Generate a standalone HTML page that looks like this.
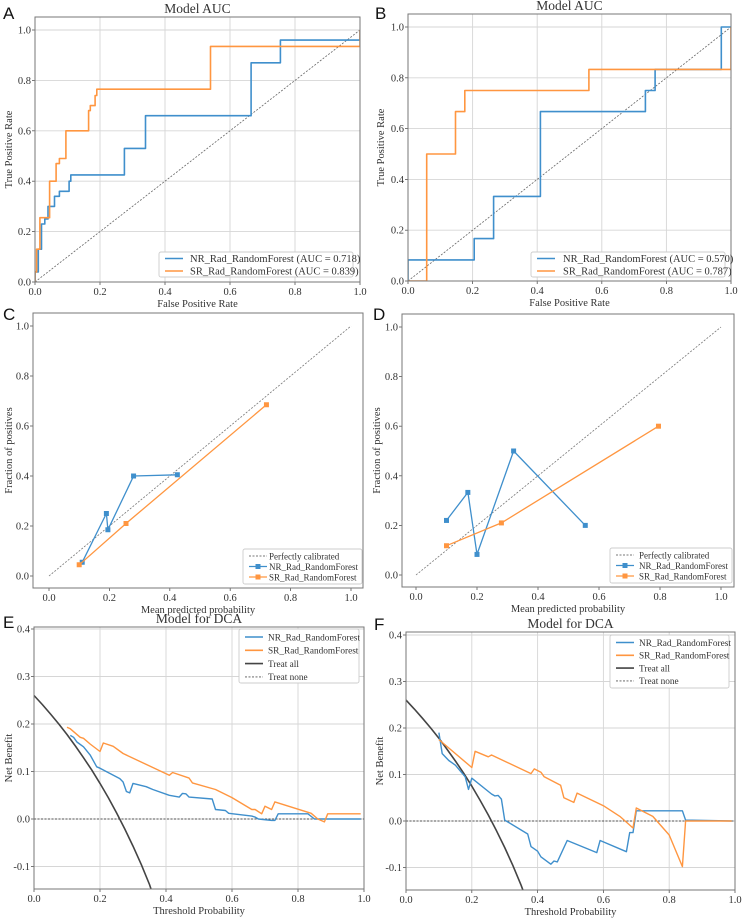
<!DOCTYPE html>
<html><head><meta charset="utf-8"><style>
html,body{margin:0;padding:0;background:#fff;}
svg{display:block;}
text{font-family:"Liberation Serif",serif;fill:#333;}
.lt{font-family:"Liberation Sans",sans-serif;font-size:17px;fill:#111;}
</style></head><body>
<svg id="fig" width="744" height="918" viewBox="0 0 744 918" xmlns="http://www.w3.org/2000/svg"></svg>
<script>
// ===== Data =====
const rocTicks = [0, 0.2, 0.4, 0.6, 0.8, 1.0];
const rocTickLabels = ["0.0","0.2","0.4","0.6","0.8","1.0"];
const dcaYTicks = [-0.1, 0, 0.1, 0.2, 0.3, 0.4];
const dcaYTickLabels = ["-0.1","0.0","0.1","0.2","0.3","0.4"];

const rocA_nr_fpr = [0,0,0.01,0.01,0.02,0.02,0.03,0.03,0.04,0.04,0.06,0.06,0.075,0.075,0.105,0.105,0.11,0.11,0.275,0.275,0.34,0.34,0.665,0.665,0.755,0.755,1,1];
const rocA_nr_tpr = [0,0.04,0.04,0.13,0.13,0.23,0.23,0.25,0.25,0.30,0.30,0.34,0.34,0.36,0.36,0.40,0.40,0.425,0.425,0.53,0.53,0.66,0.66,0.87,0.87,0.96,0.96,1];
const rocA_sr_fpr = [0,0,0.005,0.005,0.015,0.015,0.045,0.045,0.065,0.065,0.075,0.075,0.095,0.095,0.165,0.165,0.17,0.17,0.185,0.185,0.19,0.19,0.54,0.54,1,1];
const rocA_sr_tpr = [0,0.04,0.04,0.13,0.13,0.255,0.255,0.40,0.40,0.47,0.47,0.49,0.49,0.60,0.60,0.68,0.68,0.70,0.70,0.74,0.74,0.765,0.765,0.935,0.935,1];

const rocB_nr_fpr = [0,0,0.205,0.205,0.265,0.265,0.41,0.41,0.735,0.735,0.765,0.765,0.97,0.97,1];
const rocB_nr_tpr = [0,0.083,0.083,0.167,0.167,0.333,0.333,0.667,0.667,0.75,0.75,0.833,0.833,1,1];
const rocB_sr_fpr = [0,0.058,0.058,0.147,0.147,0.176,0.176,0.56,0.56,1,1];
const rocB_sr_tpr = [0,0,0.5,0.5,0.667,0.667,0.75,0.75,0.833,0.833,1];

const calC_nr_x = [0.11,0.19,0.195,0.28,0.425];
const calC_nr_y = [0.055,0.25,0.185,0.40,0.405];
const calC_sr_x = [0.10,0.255,0.72];
const calC_sr_y = [0.045,0.21,0.685];
const calD_nr_x = [0.10,0.17,0.20,0.32,0.555];
const calD_nr_y = [0.22,0.333,0.083,0.50,0.20];
const calD_sr_x = [0.10,0.28,0.795];
const calD_sr_y = [0.118,0.21,0.60];

const treatAll_t = [0,0.025,0.05,0.075,0.1,0.125,0.15,0.175,0.2,0.225,0.25,0.275,0.3,0.325,0.35,0.355];
const treatAll_nb = [0.26,0.241,0.221,0.200,0.178,0.154,0.129,0.103,0.075,0.045,0.013,-0.021,-0.057,-0.096,-0.138,-0.148];

const dcaE_nr_t = [0.11,0.12,0.13,0.15,0.17,0.19,0.2,0.26,0.27,0.28,0.29,0.30,0.34,0.36,0.41,0.44,0.45,0.46,0.47,0.54,0.55,0.58,0.59,0.66,0.67,0.68,0.72,0.73,0.74,0.83,0.85,0.99];
const dcaE_nr_nb = [0.176,0.172,0.162,0.152,0.135,0.110,0.107,0.085,0.078,0.058,0.055,0.075,0.068,0.062,0.050,0.046,0.054,0.053,0.046,0.042,0.020,0.018,0.012,0.006,0.004,0.0,-0.003,-0.003,0.011,0.011,0.0,0.0];
const dcaE_sr_t = [0.10,0.11,0.14,0.15,0.17,0.20,0.21,0.24,0.27,0.41,0.42,0.47,0.48,0.55,0.60,0.66,0.67,0.69,0.70,0.72,0.73,0.84,0.86,0.88,0.89,0.99];
const dcaE_sr_nb = [0.193,0.190,0.172,0.170,0.158,0.142,0.160,0.153,0.138,0.092,0.098,0.086,0.076,0.062,0.045,0.020,0.020,0.011,0.027,0.020,0.036,0.012,0.0,-0.006,0.011,0.011];

const dcaF_nr_t = [0.10,0.11,0.13,0.15,0.18,0.19,0.20,0.26,0.27,0.28,0.29,0.30,0.37,0.38,0.40,0.41,0.44,0.45,0.46,0.49,0.58,0.59,0.67,0.68,0.69,0.70,0.84,0.85,0.99];
const dcaF_nr_nb = [0.19,0.145,0.13,0.12,0.095,0.068,0.092,0.058,0.054,0.055,0.047,0.002,-0.028,-0.055,-0.065,-0.077,-0.093,-0.086,-0.088,-0.042,-0.068,-0.042,-0.066,-0.025,-0.025,0.022,0.022,0.002,0.0];
const dcaF_sr_t = [0.10,0.20,0.21,0.25,0.26,0.38,0.39,0.41,0.42,0.47,0.48,0.51,0.52,0.60,0.65,0.69,0.70,0.75,0.80,0.84,0.85,0.99];
const dcaF_sr_nb = [0.175,0.115,0.15,0.138,0.142,0.102,0.112,0.105,0.095,0.077,0.05,0.04,0.06,0.033,0.01,-0.015,0.028,0.01,-0.03,-0.098,0.0,0.0];

const BLUE = "#3f8fcc", ORANGE = "#ff9640", DARK = "#444";
const svg = document.getElementById('fig');
const NS = "http://www.w3.org/2000/svg";
function mk(tag, attrs, parent){ const e=document.createElementNS(NS,tag); for(const k in attrs) e.setAttribute(k,attrs[k]); (parent||svg).appendChild(e); return e; }

function panel(c){
  const g = mk('g',{});
  
  
  const sx = v => c.x0 + (v - c.xa)/(c.xb - c.xa)*(c.x1 - c.x0);
  const sy = v => c.y0 + (v - c.ya)/(c.yb - c.ya)*(c.y1 - c.y0);
  if(c.grid){
    c.xt.forEach(v=>{ const l=mk('line',{x1:sx(v),x2:sx(v),y1:c.bt,y2:c.bb,stroke:"#d6d6d6","stroke-width":0.9},g);
       });
    c.yt.forEach(v=>{ const l=mk('line',{x1:c.bl,x2:c.br,y1:sy(v),y2:sy(v),stroke:"#d6d6d6","stroke-width":0.9},g);
       });
  }
  c.xt.forEach((v,i)=>{ mk('line',{x1:sx(v),x2:sx(v),y1:c.bb,y2:c.bb+3,stroke:"#555","stroke-width":0.8},g);
    const t=mk('text',{x:sx(v),y:c.bb+13,"font-size":10.5,"text-anchor":"middle"},g); t.textContent=c.xl[i];
     });
  c.yt.forEach((v,i)=>{ mk('line',{x1:c.bl-3,x2:c.bl,y1:sy(v),y2:sy(v),stroke:"#555","stroke-width":0.8},g);
    const t=mk('text',{x:c.bl-4,y:sy(v)+3.5,"font-size":10.5,"text-anchor":"end"},g); t.textContent=c.yl[i];
     });
  const cid='clip'+c.name; const cp=mk('clipPath',{id:cid},g); mk('rect',{x:c.bl,y:c.bt,width:c.br-c.bl,height:c.bb-c.bt},cp);
  const pg=mk('g',{"clip-path":"url(#"+cid+")"},g);
  c.series.forEach(s=>{
    const pts=s.x.map((v,i)=>sx(v).toFixed(1)+","+sy(s.y[i]).toFixed(1)).join(" ");
    const p=mk('polyline',{points:pts,fill:"none",stroke:s.color,"stroke-width":s.w||1.6,"stroke-dasharray":s.dash||"none","stroke-linejoin":"round"},pg);
    
    
    if(s.markers){ s.x.forEach((v,i)=>{ const m=mk('rect',{x:sx(v)-2.5,y:sy(s.y[i])-2.5,width:5,height:5,fill:s.color},pg);
       }); }
  });
  const bx=mk('rect',{x:c.bl,y:c.bt,width:c.br-c.bl,height:c.bb-c.bt,fill:"none",stroke:"#777","stroke-width":1},g);
   
  const cx=(c.bl+c.br)/2, cy=(c.bt+c.bb)/2;
  const xl=mk('text',{x:cx,y:c.bb+25,"font-size":10.5,"text-anchor":"middle"},g); xl.textContent=c.xlabel;
   
  const yl=mk('text',{x:0,y:0,"font-size":10.5,"text-anchor":"middle",transform:`translate(${c.ylx},${cy}) rotate(-90)`},g); yl.textContent=c.ylabel;
   
  if(c.title){ const t=mk('text',{x:cx,y:c.bt-4,"font-size":13.5,"text-anchor":"middle"},g); t.textContent=c.title;
      }
  const L=mk('text',{x:c.letter[0],y:c.letter[1],class:"lt"},g); L.textContent=c.letterText;
   
  const lg=c.legend; const lgG=mk('g',{},g);
   
  mk('rect',{x:lg.x,y:lg.y,width:lg.w,height:lg.h,fill:"#fff",stroke:"#ccc","stroke-width":0.9,rx:2},lgG);
  lg.items.forEach((it,i)=>{
    const yy=lg.y+lg.first+i*lg.step;
    mk('line',{x1:lg.x+6,x2:lg.x+24,y1:yy,y2:yy,stroke:it.color,"stroke-width":it.w||1.6,"stroke-dasharray":it.dash||"none"},lgG);
    if(it.marker) mk('rect',{x:lg.x+12.5,y:yy-2.5,width:5,height:5,fill:it.color},lgG);
    const t=mk('text',{x:lg.tx,y:yy+3.3,"font-size":lg.fs||10.5},lgG); t.textContent=it.label;
     
  });
}

const diag={name:"chance-diagonal",x:[0,1],y:[0,1],color:"#666",w:0.8,dash:"2,1.5"};
panel({name:"roc-panel-a",bl:35,br:360,bt:17,bb:282,x0:35,x1:360,xa:0,xb:1,y0:282,y1:30,ya:0,yb:1,grid:true,
  xt:rocTicks,xl:rocTickLabels,yt:rocTicks,yl:rocTickLabels,xlabel:"False Positive Rate",ylabel:"True Positive Rate",ylx:12,
  title:"Model AUC",letter:[3,19],letterText:"A",
  series:[diag,{name:"nr-roc-line",x:rocA_nr_fpr,y:rocA_nr_tpr,color:BLUE},{name:"sr-roc-line",x:rocA_sr_fpr,y:rocA_sr_tpr,color:ORANGE}],
  legend:{x:159,y:252,w:194,h:25,first:6.5,step:12.5,tx:190,fs:10.5,items:[{color:BLUE,label:"NR_Rad_RandomForest (AUC = 0.718)"},{color:ORANGE,label:"SR_Rad_RandomForest (AUC = 0.839)"}]}});
panel({name:"roc-panel-b",bl:408,br:731,bt:14,bb:281,x0:408,x1:731,xa:0,xb:1,y0:281,y1:27,ya:0,yb:1,grid:true,
  xt:rocTicks,xl:rocTickLabels,yt:rocTicks,yl:rocTickLabels,xlabel:"False Positive Rate",ylabel:"True Positive Rate",ylx:384,
  title:"Model AUC",letter:[375,19],letterText:"B",
  series:[diag,{name:"nr-roc-line",x:rocB_nr_fpr,y:rocB_nr_tpr,color:BLUE},{name:"sr-roc-line",x:rocB_sr_fpr,y:rocB_sr_tpr,color:ORANGE}],
  legend:{x:531,y:252,w:194,h:25,first:6.5,step:12.5,tx:563,fs:10.5,items:[{color:BLUE,label:"NR_Rad_RandomForest (AUC = 0.570)"},{color:ORANGE,label:"SR_Rad_RandomForest (AUC = 0.787)"}]}});
panel({name:"calibration-panel-c",bl:33,br:363,bt:313,bb:588,x0:49,x1:351,xa:0,xb:1,y0:576,y1:326,ya:0,yb:1,grid:false,
  xt:rocTicks,xl:rocTickLabels,yt:rocTicks,yl:rocTickLabels,xlabel:"Mean predicted probability",ylabel:"Fraction of positives",ylx:12,
  title:null,letter:[3,320],letterText:"C",
  series:[{name:"perfect-calibration-line",x:[0,1],y:[0,1],color:"#777",w:0.8,dash:"2,1.5"},
    {name:"nr-calibration-line",x:calC_nr_x,y:calC_nr_y,color:BLUE,w:1.3,markers:true},
    {name:"sr-calibration-line",x:calC_sr_x,y:calC_sr_y,color:ORANGE,w:1.3,markers:true}],
  legend:{x:243,y:549,w:119,h:35,first:7,step:10.5,tx:269,fs:9,items:[{color:"#777",w:0.9,dash:"2,1.5",label:"Perfectly calibrated"},{color:BLUE,w:1.3,marker:true,label:"NR_Rad_RandomForest"},{color:ORANGE,w:1.3,marker:true,label:"SR_Rad_RandomForest"}]}});
panel({name:"calibration-panel-d",bl:402,br:734,bt:314,bb:587,x0:416,x1:721,xa:0,xb:1,y0:575,y1:327,ya:0,yb:1,grid:false,
  xt:rocTicks,xl:rocTickLabels,yt:rocTicks,yl:rocTickLabels,xlabel:"Mean predicted probability",ylabel:"Fraction of positives",ylx:380,
  title:null,letter:[373,320],letterText:"D",
  series:[{name:"perfect-calibration-line",x:[0,1],y:[0,1],color:"#777",w:0.8,dash:"2,1.5"},
    {name:"nr-calibration-line",x:calD_nr_x,y:calD_nr_y,color:BLUE,w:1.3,markers:true},
    {name:"sr-calibration-line",x:calD_sr_x,y:calD_sr_y,color:ORANGE,w:1.3,markers:true}],
  legend:{x:610,y:548,w:122,h:35,first:7,step:10.5,tx:639,fs:9,items:[{color:"#777",w:0.9,dash:"2,1.5",label:"Perfectly calibrated"},{color:BLUE,w:1.3,marker:true,label:"NR_Rad_RandomForest"},{color:ORANGE,w:1.3,marker:true,label:"SR_Rad_RandomForest"}]}});
panel({name:"dca-panel-e",bl:34,br:364,bt:627,bb:889,x0:34,x1:364,xa:0,xb:1,y0:819,y1:629,ya:0,yb:0.4,grid:true,
  xt:rocTicks,xl:rocTickLabels,yt:dcaYTicks,yl:dcaYTickLabels,xlabel:"Threshold Probability",ylabel:"Net Benefit",ylx:12,
  title:"Model for DCA",letter:[3,628],letterText:"E",
  series:[{name:"treat-none-line",x:[0,1],y:[0,0],color:"#555",w:0.9,dash:"2,1.5"},
    {name:"treat-all-line",x:treatAll_t,y:treatAll_nb,color:DARK,w:1.6},
    {name:"nr-dca-line",x:dcaE_nr_t,y:dcaE_nr_nb,color:BLUE,w:1.4},
    {name:"sr-dca-line",x:dcaE_sr_t,y:dcaE_sr_nb,color:ORANGE,w:1.4}],
  legend:{x:239,y:629,w:120,h:54,first:8,step:13.3,tx:268,fs:9.3,items:[{color:BLUE,label:"NR_Rad_RandomForest"},{color:ORANGE,label:"SR_Rad_RandomForest"},{color:DARK,label:"Treat all"},{color:"#555",w:0.9,dash:"2,1.5",label:"Treat none"}]}});
panel({name:"dca-panel-f",bl:406,br:735,bt:632,bb:890,x0:406,x1:735,xa:0,xb:1,y0:821,y1:635,ya:0,yb:0.4,grid:true,
  xt:rocTicks,xl:rocTickLabels,yt:dcaYTicks,yl:dcaYTickLabels,xlabel:"Threshold Probability",ylabel:"Net Benefit",ylx:383,
  title:"Model for DCA",letter:[374,630],letterText:"F",
  series:[{name:"treat-none-line",x:[0,1],y:[0,0],color:"#555",w:0.9,dash:"2,1.5"},
    {name:"treat-all-line",x:treatAll_t,y:treatAll_nb,color:DARK,w:1.6},
    {name:"nr-dca-line",x:dcaF_nr_t,y:dcaF_nr_nb,color:BLUE,w:1.4},
    {name:"sr-dca-line",x:dcaF_sr_t,y:dcaF_sr_nb,color:ORANGE,w:1.4}],
  legend:{x:610,y:635,w:119,h:53,first:7.5,step:12.8,tx:639,fs:9.3,items:[{color:BLUE,label:"NR_Rad_RandomForest"},{color:ORANGE,label:"SR_Rad_RandomForest"},{color:DARK,label:"Treat all"},{color:"#555",w:0.9,dash:"2,1.5",label:"Treat none"}]}});
</script>
</body></html>
